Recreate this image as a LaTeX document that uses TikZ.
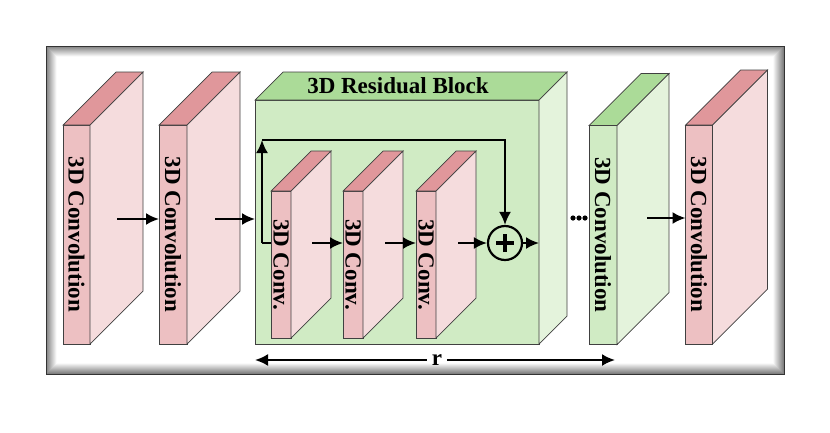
\documentclass[tikz,border=0pt]{standalone}
\usepackage{fontspec}
\setmainfont{Liberation Serif}
\usepackage{graphicx}
\usetikzlibrary{arrows.meta}

\definecolor{pinkfront}{RGB}{237,192,194}
\definecolor{pinkside}{RGB}{245,220,221}
\definecolor{pinktop}{RGB}{224,151,155}
\definecolor{greenfront}{RGB}{208,235,196}
\definecolor{greenside}{RGB}{228,243,220}
\definecolor{greentop}{RGB}{171,219,152}
\definecolor{edgegray}{RGB}{64,64,64}

\begin{document}
\begin{tikzpicture}[x=1pt, y=-1pt,
    face/.style={draw=edgegray, line width=0.7pt, inner sep=0pt, outer sep=0pt},
    lbl/.style={font=\fontsize{23}{26}\selectfont\bfseries},
    link/.style={line width=2.1pt, -{Latex[length=13pt,width=12pt]}},
    wire/.style={line width=2.1pt}]
  \useasboundingbox (0,0) rectangle (830,432);

  % frame with inner shadow
  \fill[white] (46,46) rectangle (784,374);
  \foreach \i in {0,...,10}{
    \pgfmathsetmacro\g{50-4.8*\i}
    \draw[black!\g, line width=1pt] (46.5+\i,46.5+\i) rectangle (783.5-\i,373.5-\i);
  }
  \draw[black!80, line width=1pt] (46,46) rectangle (784,374);

  % residual block
  \node[face, fill=greenfront, minimum width=284, minimum height=244] (res) at (397,222) {};
  \filldraw[face, fill=greentop] (res.north west) -- ++(28,-28) -- ++(284,0) -- (res.north east) -- cycle;
  \filldraw[face, fill=greenside] (res.north east) -- ++(28,-28) -- ++(0,244) -- (res.south east) -- cycle;
  \node[lbl] (title) at (398,86) {3D Residual Block};

  % slabs
  \foreach \nm/\cx/\cy/\bw/\bh/\bd/\col/\txt in {
      c1/76.5/234.5/27/219/53/pink/3D Convolution,
      c2/173/234.5/28/219/53/pink/3D Convolution,
      r1/281/264.5/20/147/40/pink/3D Conv.,
      r2/353/264.5/20/147/40/pink/3D Conv.,
      r3/426/264.5/20/147/40/pink/3D Conv.,
      g1/603/235/28/219/52/green/3D Convolution,
      c3/699/234.5/27/219/55/pink/3D Convolution}{
    \node[face, lbl, fill=\col front, minimum width=\bw, minimum height=\bh] (\nm) at (\cx,\cy) {\rotatebox{-90}{\txt}};
    \filldraw[face, fill=\col top] (\nm.north west) -- ++(\bd,-\bd) -- ++(\bw,0) -- (\nm.north east) -- cycle;
    \filldraw[face, fill=\col side] (\nm.north east) -- ++(\bd,-\bd) -- ++(0,\bh) -- (\nm.south east) -- cycle;
  }

  % adder
  \node[circle, draw, line width=2.2pt, minimum size=34, inner sep=0pt] (plus) at (505,243) {};
  \draw[line width=3.4pt] ([xshift=-9pt]plus.center) -- ([xshift=9pt]plus.center);
  \draw[line width=3.4pt] ([yshift=-9pt]plus.center) -- ([yshift=9pt]plus.center);

  \coordinate (c1out) at (117,219);
  \coordinate (c2out) at (215,219);
  \coordinate (r1out) at (312,243);
  \coordinate (r2out) at (385,243);
  \coordinate (r3out) at (458,243);
  \coordinate (g1out) at (647,218);
  \coordinate (skipin) at (262,243);
  \coordinate (skiptop) at (262,140);

  \draw[link] (c1out) -- (c1out -| c2.west);
  \draw[link] (c2out) -- (c2out -| res.west);
  \draw[link] (r1out) -- (r1out -| r2.west);
  \draw[link] (r2out) -- (r2out -| r3.west);
  \draw[link] (r3out) -- (plus.west);
  \draw[link] (plus.east) -- (plus -| res.east);
  \draw[link] (g1out) -- (g1out -| c3.west);

  % skip connection
  \draw[wire] (r1.west |- skipin) -- (skipin);
  \draw[link] (skipin) -- (skiptop);
  \draw[link] (skiptop) -| (plus.north);

  % dots
  \foreach \x in {573,579,585}
    \fill (\x,218) circle (2.6pt);

  % repeat span
  \coordinate (rleft) at (255,360);
  \coordinate (rright) at (615,360);
  \node[lbl, inner sep=5pt] (rlab) at (437,360) {r};
  \draw[link] (rlab.west) -- (rleft);
  \draw[link] (rlab.east) -- (rright);
\end{tikzpicture}
\end{document}
